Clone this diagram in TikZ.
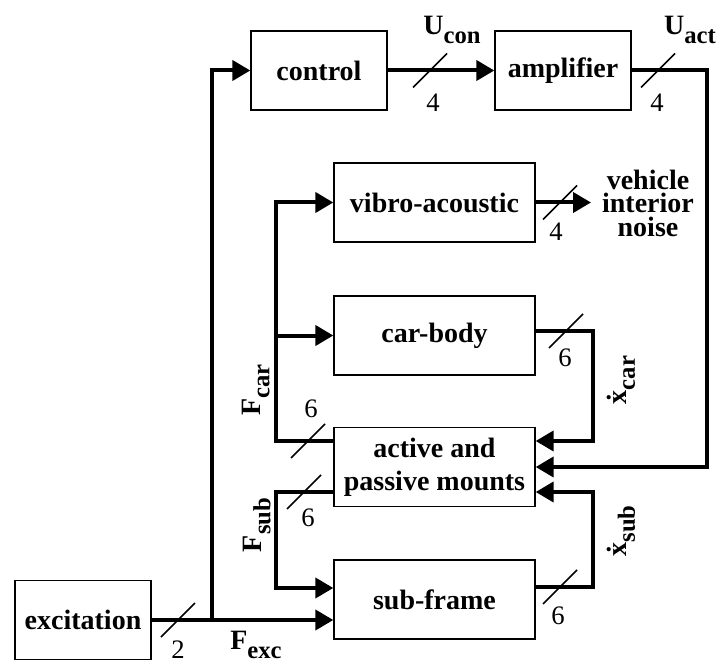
\documentclass[tikz,border=0pt]{standalone}
\usepackage{fontspec}
\setmainfont{Liberation Serif}
\usetikzlibrary{arrows.meta,calc}
\newcommand{\sigsub}[2]{#1\raisebox{-6.5pt}{\fontsize{18.5}{18.5}\selectfont #2}}
\begin{document}
\begin{tikzpicture}[x=0.75pt,y=-0.75pt,
  blk/.style={draw,line width=1pt,inner sep=0pt,font=\fontsize{21}{24}\selectfont\bfseries,align=center},
  smallblk/.style={blk,minimum width=102pt,minimum height=59.25pt},
  bigblk/.style={blk,minimum width=150.75pt,minimum height=59.25pt},
  conn/.style={line width=3pt},
  arr/.style={conn,-{Triangle[length=13.5pt,width=15pt]}},
  num/.style={font=\fontsize{20}{20}\selectfont},
  sig/.style={font=\fontsize{21}{24}\selectfont\bfseries},
  busmark/.style={line width=1.1pt},
  slash/.pic={\draw[busmark] (-17,17) -- (17,-17);}
]
\useasboundingbox (0,0) rectangle (718,663);

% blocks
\node[smallblk] (exc) at (83,620) {excitation};
\node[smallblk] (ctrl) at (319,70.5) {control};
\node[smallblk] (amp) at (563,70.5) {amplifier};
\node[bigblk] (vib) at (434.5,202.5) {vibro-acoustic};
\node[bigblk] (car) at (434.5,335.5) {car-body};
\node[bigblk,font=\fontsize{21}{24.75}\selectfont\bfseries] (mnt) at (434.5,467) {active and\\passive mounts};
\node[bigblk] (sub) at (434.5,599.5) {sub-frame};

% helper coordinates
\coordinate (J) at (212,620);
\coordinate (RA) at (707,467);
\coordinate (LC) at (276,441);
\coordinate (LS) at (276,492);
\coordinate (RC) at (593,441);
\coordinate (RS) at (593,492);
\coordinate (noiseEnd) at (591,202.5);
\node[align=center,font=\fontsize{21}{17.6}\selectfont\bfseries] (noise) at (648,203) {vehicle\\interior\\noise};

% connectors
\draw[arr] (exc.east) -- (exc.east -| sub.west);
\draw[arr] (J) |- (ctrl.west);
\draw[arr] (ctrl.east) -- (amp.west);
\draw[arr] (amp.east) -| (RA) -- (RA -| mnt.east);
\draw[arr] (LC -| mnt.west) -- (LC) |- (vib.west);
\draw[arr] (LC |- car.west) -- (car.west);
\draw[arr] (vib.east) -- (noiseEnd);
\draw[arr] ($(car.east)+(0,-4.5)$) -| (RC) -- (RC -| mnt.east);
\draw[arr] ($(sub.east)+(0,-12.5)$) -| (RS) -- (RS -| mnt.east);
\draw[arr] (LS -| mnt.west) -- (LS) |- ($(sub.west)+(0,-11.5)$);

% bus marks
\pic at (178,620) {slash};
\pic at (430,70.5) {slash};
\pic at (658,70.5) {slash};
\pic at (560,202.5) {slash};
\pic at (566,331) {slash};
\pic at (308,441) {slash};
\pic at (304,492) {slash};
\pic at (560,587) {slash};

% bus widths
\node[num] (n2) at (178,650) {2};
\node[num] (n4a) at (433,103) {4};
\node[num] (n4b) at (657,103) {4};
\node[num] (n4c) at (556,232) {4};
\node[num] (n6a) at (565,358) {6};
\node[num] (n6b) at (311,409) {6};
\node[num] (n6c) at (308,518) {6};
\node[num] (n6d) at (558,616) {6};

% signal names
\node[sig] (ucon) at (452,30) {\sigsub{U}{con}};
\node[sig] (uact) at (690,30) {\sigsub{U}{act}};
\node[sig] (fexc) at (256,645) {\sigsub{F}{exc}};
\node[sig,rotate=90] (fcar) at (256,390) {\sigsub{F}{car}};
\node[sig,rotate=90] (fsub) at (257,525) {\sigsub{F}{sub}};
\node[sig,rotate=90] (xcar) at (621,380) {\sigsub{\.{x}}{car}};
\node[sig,rotate=90] (xsub) at (621,531) {\sigsub{\.{x}}{sub}};
\end{tikzpicture}
\end{document}
